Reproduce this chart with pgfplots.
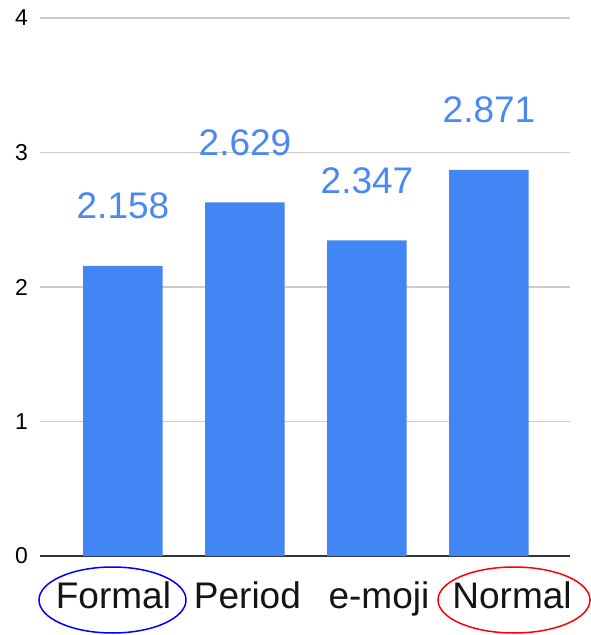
\documentclass[border=0pt]{standalone}
\usepackage{fontspec}
\setmainfont{Liberation Sans}
\usepackage{pgfplots}
\pgfplotsset{compat=1.18}
\definecolor{gblue}{HTML}{4285F4}
\definecolor{lblue}{HTML}{4A89F3}
\begin{document}
\begin{tikzpicture}
\begin{axis}[
 scale only axis, width=530pt, height=538pt,
 xmin=-0.680, xmax=3.664, ymin=0, ymax=4,
 ybar, bar width=79.5pt,
 axis line style={draw=none},
 xtick={-0.078,1.02,2.098,3.189}, xticklabels={Formal,Period,e-moji,Normal},
 ytick={1,2,3,4},
 extra y ticks={0}, extra y tick style={grid style={draw=black!80, line width=1.3pt}},
 ymajorgrids, grid style={draw=black!20, line width=1.2pt},
 major tick length=0pt,
 /pgf/number format/assume math mode=true,
 yticklabel style={font=\fontsize{23}{23}\selectfont, anchor=east, inner sep=0pt, xshift=-12pt},
 xticklabel style={font=\fontsize{37}{37}\selectfont, text=black!92, anchor=base, inner sep=0pt, yshift=-52pt},
 nodes near coords,
 nodes near coords style={font=\fontsize{37}{37}\selectfont, text=lblue, anchor=base, inner sep=0pt, yshift=47pt, /pgf/number format/.cd, fixed, precision=3, fixed zerofill},
 clip=false,
]
\addplot[fill=gblue, draw=none] coordinates {(0,2.158) (1,2.629) (2,2.347) (3,2.871)};
\end{axis}
\draw[blue, line width=1.5pt] (72.5pt,-44pt) ellipse [x radius=73.5pt, y radius=33pt];
\draw[red, line width=1.5pt] (474pt,-44pt) ellipse [x radius=76pt, y radius=33pt];
\pgfresetboundingbox
\path[use as bounding box] (-40pt,-79pt) rectangle (551pt,556pt);
\end{tikzpicture}
\end{document}
